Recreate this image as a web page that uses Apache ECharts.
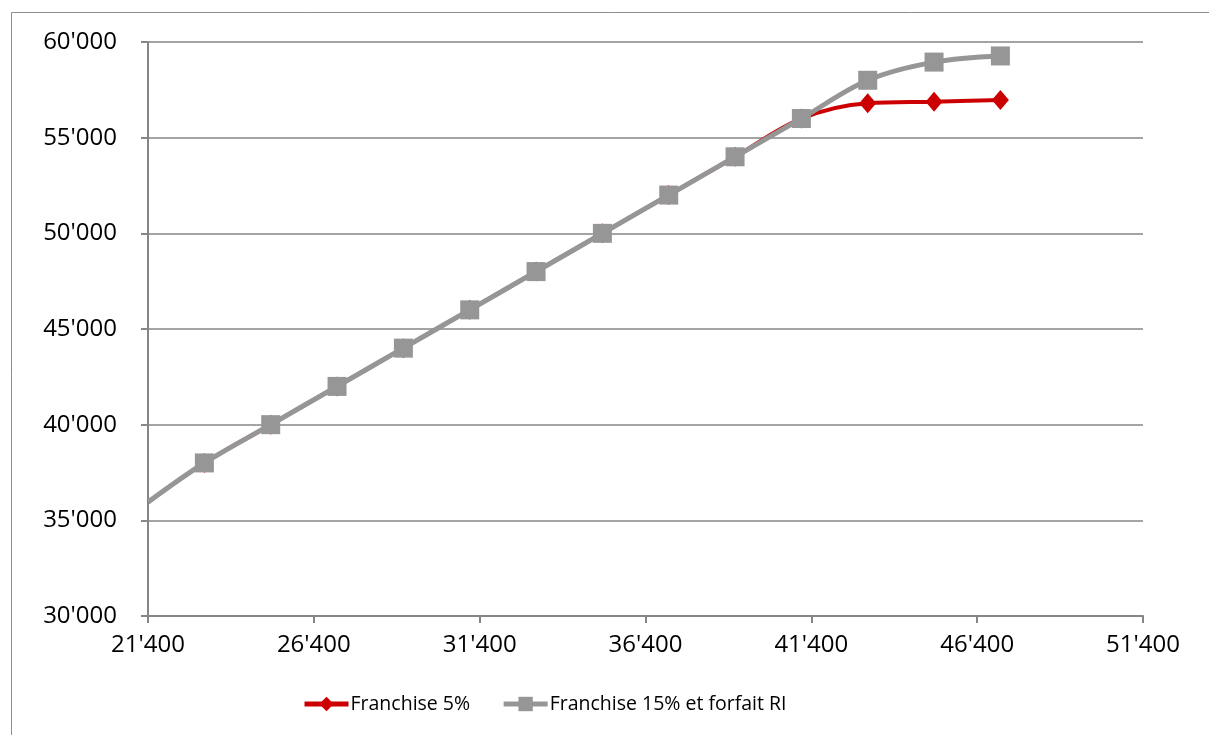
<!DOCTYPE html>
<html>
<head>
<meta charset="utf-8">
<script src="https://cdn.jsdelivr.net/npm/echarts@6/dist/echarts.min.js"></script>
<style>html,body{margin:0;padding:0;background:#fff;}#c{width:1209px;height:735px;}</style>
</head>
<body>
<div id="c"></div>
<script>
var xValues = [21400, 23100, 25100, 27100, 29100, 31100, 33100, 35100, 37100, 39100, 41100, 43100, 45100, 47100];
var franchise5 = [35950, 38000, 40000, 42000, 44000, 46000, 48000, 50000, 52000, 54000, 56000, 56800, 56880, 56970];
var franchise15 = [35950, 38000, 40000, 42000, 44000, 46000, 48000, 50000, 52000, 54000, 56000, 58000, 58950, 59270];
var seriesNames = ['Franchise 5%', 'Franchise 15% et forfait RI'];

function fmt(v){ return String(Math.round(v)).replace(/\B(?=(\d{3})+(?!\d))/g, "'"); }
function markerData(ys){
  return ys.map(function(y,i){ var p=[xValues[i], y]; return i===0 ? {value:p, symbol:'none'} : {value:p}; });
}

var chart = echarts.init(document.getElementById('c'));
var font = '"Open Sans", "Noto Sans", sans-serif';
chart.setOption({
  animation: false,
  backgroundColor: '#fff',
  graphic: [{type:'rect', shape:{x:11.5, y:12.5, width:1300, height:800}, style:{fill:'none', stroke:'#8c8c8c', lineWidth:1}, silent:true, z:-1}],
  grid: {left:148, right:66, top:42, bottom:119},
  xAxis: {
    type:'value', min:21400, max:51400, interval:5000,
    axisLine:{show:true, lineStyle:{color:'#868686', width:2}},
    axisTick:{show:true, length:7, lineStyle:{color:'#868686', width:2}},
    splitLine:{show:false},
    axisLabel:{formatter:fmt, color:'#000', fontSize:24, fontFamily:font, margin:17}
  },
  yAxis: {
    type:'value', min:30000, max:60000, interval:5000,
    axisLine:{show:true, lineStyle:{color:'#868686', width:2}},
    axisTick:{show:true, length:7, lineStyle:{color:'#868686', width:2}},
    splitLine:{show:true, lineStyle:{color:'#868686', width:1.5}},
    axisLabel:{formatter:fmt, color:'#000', fontSize:24, fontFamily:font, margin:31}
  },
  legend: {
    top:694, left:302, padding:0, itemWidth:44, itemHeight:18, itemGap:31,
    textStyle:{color:'#000', fontSize:19.5, fontFamily:font, padding:[0,0,0,-3]},
    lineStyle:{width:5},
    data: seriesNames
  },
  series: [
    {name:seriesNames[0], type:'line', smooth:0.35, data:markerData(franchise5),
     symbol:'diamond', symbolSize:[17,20], color:'#cc0000',
     lineStyle:{color:'#cc0000', width:4}, itemStyle:{color:'#cc0000'}, z:2},
    {name:seriesNames[1], type:'line', smooth:0.35, data:markerData(franchise15),
     symbol:'rect', symbolSize:19, color:'#969696',
     lineStyle:{color:'#969696', width:5}, itemStyle:{color:'#969696'}, z:3}
  ]
});
</script>
</body>
</html>
